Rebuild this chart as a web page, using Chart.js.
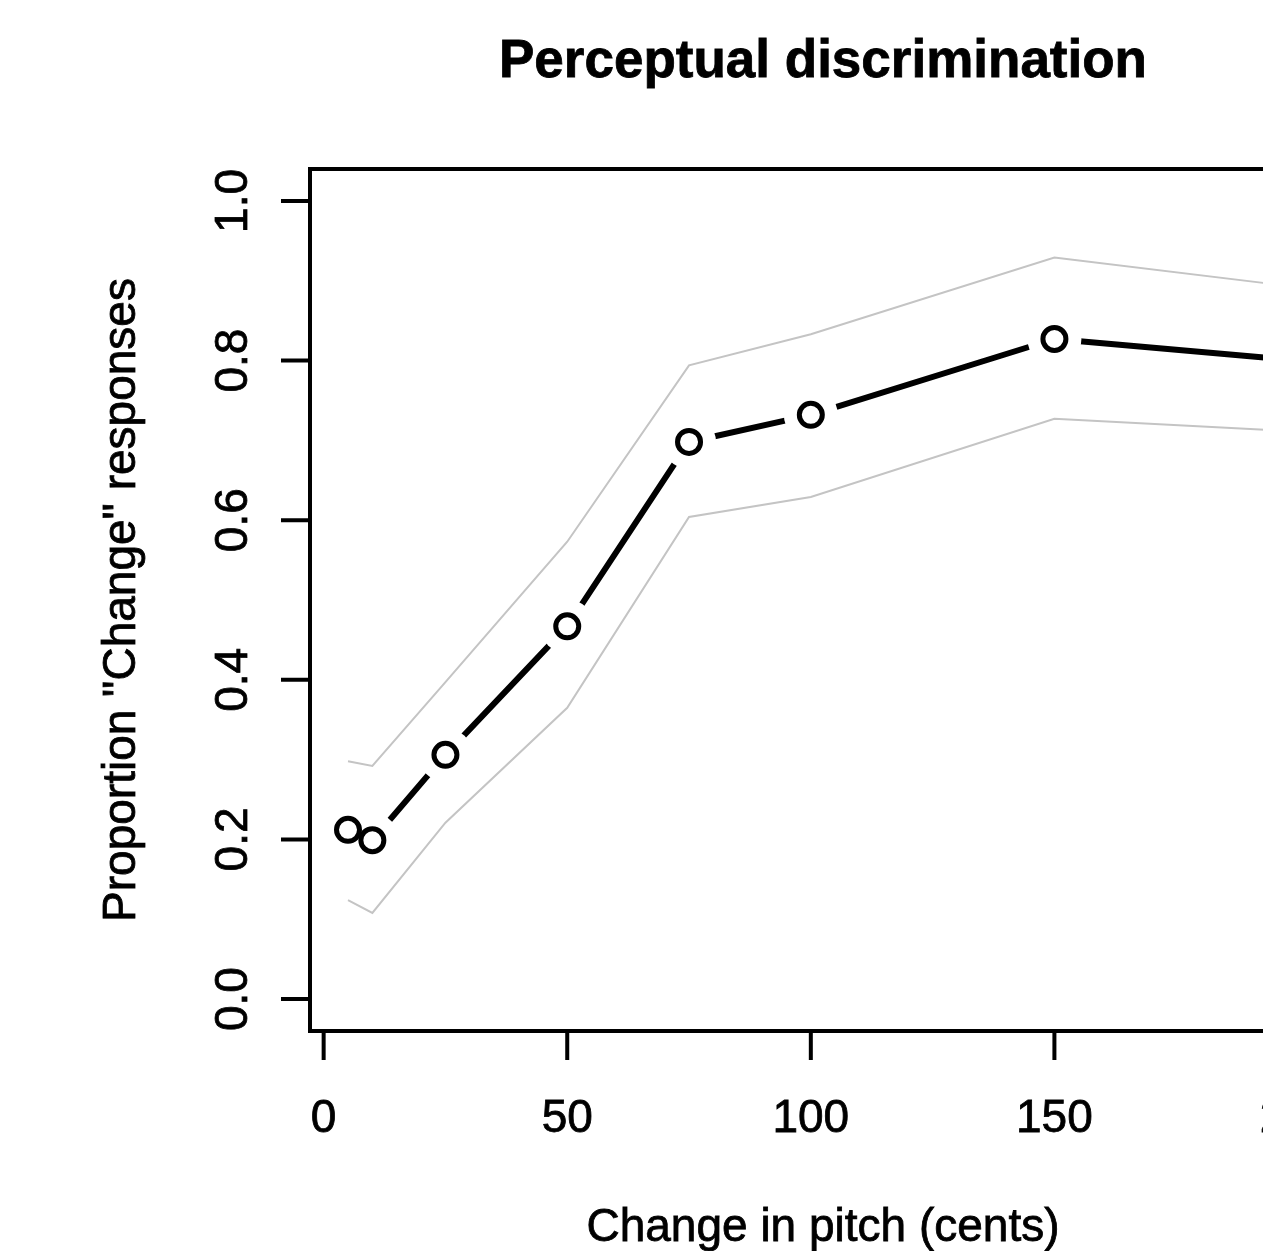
<!DOCTYPE html>
<html>
<head>
<meta charset="utf-8">
<title>Perceptual discrimination</title>
<script src="https://cdn.jsdelivr.net/npm/chart.js@4"></script>
<style>
  html, body { margin: 0; padding: 0; background: #fff; overflow: hidden; }
  #wrap { width: 1263px; height: 1251px; overflow: hidden; position: relative; }
  #chart { display: block; }
</style>
</head>
<body>
<div id="wrap">
  <canvas id="chart" width="1400" height="1251"></canvas>
</div>
<script>
// data
const pitchCents = [5, 10, 25, 50, 75, 100, 150, 200];
const propChange = [0.212, 0.199, 0.306, 0.467, 0.698, 0.732, 0.827, 0.800];
const upperCI = [0.298, 0.292, 0.397, 0.573, 0.794, 0.833, 0.929, 0.892];
const lowerCI = [0.124, 0.108, 0.221, 0.365, 0.604, 0.629, 0.727, 0.711];
const xTicks = [0, 50, 100, 150, 200];
const yTicks = [0, 0.2, 0.4, 0.6, 0.8, 1.0];

const FONT = '"Liberation Sans", Arial, Helvetica, sans-serif';

function toPoints(ys) {
  return pitchCents.map((x, i) => ({ x: x, y: ys[i] }));
}

// fill + thin stroke, the R png text looks a bit heavier
function drawText(ctx, txt, x, y) {
  ctx.fillText(txt, x, y);
  ctx.strokeText(txt, x, y);
}

// R style box, ticks and labels
const rAxes = {
  id: "rAxes",
  beforeDatasetsDraw(chart) {
    const ctx = chart.ctx;
    const area = chart.chartArea;
    const xs = chart.scales.x;
    const ys = chart.scales.y;
    ctx.save();
    ctx.strokeStyle = "#000";
    ctx.lineWidth = 4;
    ctx.lineCap = "butt";
    ctx.strokeRect(area.left, area.top, area.right - area.left, area.bottom - area.top);

    ctx.beginPath();
    yTicks.forEach((v) => {
      const py = ys.getPixelForValue(v);
      ctx.moveTo(area.left - 29, py);
      ctx.lineTo(area.left, py);
    });
    xTicks.forEach((v) => {
      const px = xs.getPixelForValue(v);
      ctx.moveTo(px, area.bottom);
      ctx.lineTo(px, area.bottom + 29);
    });
    ctx.stroke();
    ctx.restore();
  },
  afterDraw(chart) {
    const ctx = chart.ctx;
    const area = chart.chartArea;
    const xs = chart.scales.x;
    const ys = chart.scales.y;
    const midX = (area.left + area.right) / 2;
    const midY = (area.top + area.bottom) / 2;
    ctx.save();
    ctx.fillStyle = "#000";
    ctx.strokeStyle = "#000";
    ctx.lineWidth = 0.8;
    ctx.textBaseline = "alphabetic";
    ctx.textAlign = "center";

    ctx.font = "46px " + FONT;
    xTicks.forEach((v) => {
      drawText(ctx, String(v), xs.getPixelForValue(v), 1132);
    });
    yTicks.forEach((v) => {
      ctx.save();
      ctx.translate(247, ys.getPixelForValue(v));
      ctx.rotate(-Math.PI / 2);
      drawText(ctx, v.toFixed(1), 0, 0);
      ctx.restore();
    });

    drawText(ctx, "Change in pitch (cents)", midX, 1241);
    ctx.save();
    ctx.translate(135, midY);
    ctx.rotate(-Math.PI / 2);
    drawText(ctx, 'Proportion "Change" responses', 0, 0);
    ctx.restore();

    ctx.font = "bold 53px " + FONT;
    drawText(ctx, "Perceptual discrimination", midX, 77);
    ctx.restore();
  },
};

const ctx = document.getElementById("chart").getContext("2d");
const chart = new Chart(ctx, {
  type: "line",
  data: {
    datasets: [
      {
        label: "points",
        data: toPoints(propChange),
        showLine: false,
        pointRadius: 11.5,
        pointBorderWidth: 5,
        pointBorderColor: "#000",
        pointBackgroundColor: "#fff",
        order: 0,
      },
      {
        // white discs leave the gaps of type = "b"
        label: "gaps",
        data: toPoints(propChange),
        showLine: false,
        pointRadius: 27,
        pointBorderWidth: 0,
        pointBorderColor: "#fff",
        pointBackgroundColor: "#fff",
        order: 1,
      },
      {
        label: "proportion",
        data: toPoints(propChange),
        borderColor: "#000",
        borderWidth: 6,
        borderCapStyle: "round",
        borderJoinStyle: "round",
        pointRadius: 0,
        tension: 0,
        order: 2,
      },
      {
        label: "upper",
        data: toPoints(upperCI),
        borderColor: "#c4c4c4",
        borderWidth: 2,
        pointRadius: 0,
        tension: 0,
        order: 3,
      },
      {
        label: "lower",
        data: toPoints(lowerCI),
        borderColor: "#c4c4c4",
        borderWidth: 2,
        pointRadius: 0,
        tension: 0,
        order: 3,
      },
    ],
  },
  options: {
    responsive: false,
    animation: false,
    devicePixelRatio: 1,
    layout: { padding: { left: 310, top: 169, right: 64, bottom: 220 } },
    scales: {
      x: { type: "linear", min: -2.8, max: 207.8, display: false },
      y: { type: "linear", min: -0.04, max: 1.04, display: false },
    },
    plugins: {
      legend: { display: false },
      tooltip: { enabled: false },
      title: { display: false },
    },
    events: [],
  },
  plugins: [rAxes],
});
</script>
</body>
</html>
